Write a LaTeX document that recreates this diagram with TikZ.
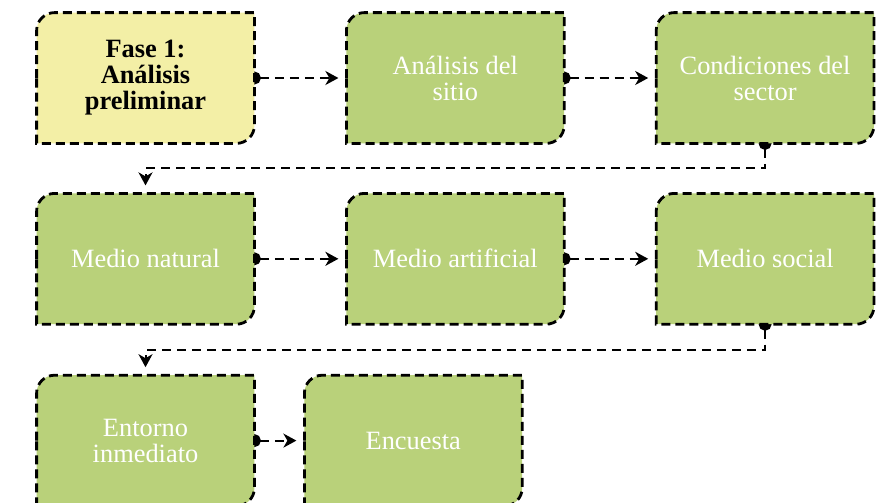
\documentclass[tikz,border=0pt]{standalone}
\usepackage{fontspec}
\setmainfont{Liberation Serif}
\usetikzlibrary{positioning,arrows.meta,calc}
\definecolor{paleyellow}{HTML}{F3EFA6}
\definecolor{leafgreen} {HTML}{B9D17A}
\pgfdeclarelayer{links}
\pgfdeclarelayer{boxes}
\pgfsetlayers{links,boxes,main}
\tikzset{
  % --- nodes
  stage/.style = {minimum width=108.5pt, minimum height=65pt, align=center,
                  inner sep=2pt, text=white, font=\fontsize{13.2}{13}\selectfont},
  phase/.style = {stage, text=black, font=\fontsize{13.2}{13}\selectfont\bfseries},
  outline/.style = {draw=black, line width=1.4pt, dash pattern=on 4.5pt off 2.5pt},
  % --- edges
  link/.style  = {draw=black, line width=1pt, dash pattern=on 4.5pt off 3pt,
                  {Circle[length=6.5pt]}-{Stealth[length=6.5pt,width=7pt,inset=2pt]},
                  shorten <=-3.25pt, shorten >=4pt},
}
\begin{document}
\begin{tikzpicture}[x=0.5pt,y=-0.5pt]
  \useasboundingbox (0,0) rectangle (884,503);
  \node[phase] (p1) at (145.5,78) {Fase 1:\\Análisis\\preliminar};
  \node[stage, right=46pt of p1] (s2) {Análisis del\\sitio};
  \node[stage, right=46pt of s2] (s3) {Condiciones del\\sector};
  \node[stage, below=25pt of p1] (n1) {Medio natural};
  \node[stage, right=46pt of n1] (n2) {Medio artificial};
  \node[stage, right=46pt of n2] (n3) {Medio social};
  \node[stage, below=25.5pt of n1] (e1) {Entorno\\inmediato};
  \node[stage, right=25pt of e1] (e2) {Encuesta};
  % box outlines: rounded top-left and bottom-right only
  \begin{pgfonlayer}{boxes}
    \foreach \n/\c in {p1/paleyellow, s2/leafgreen, s3/leafgreen, n1/leafgreen,
                       n2/leafgreen, n3/leafgreen, e1/leafgreen, e2/leafgreen}
      \draw[outline, fill=\c] (\n.west) [rounded corners=9pt] -- (\n.north west) -- (\n.north)
        [sharp corners] -- (\n.north east) -- (\n.east)
        [rounded corners=9pt] -- (\n.south east) -- (\n.south)
        [sharp corners] -- (\n.south west) -- cycle;
  \end{pgfonlayer}
  \begin{pgfonlayer}{links}
    \draw[link] (p1) -- (s2);
    \draw[link] (s2) -- (s3);
    \draw[link] (s3.south) -- ++(0,25) -| (n1.north);
    \draw[link] (n1) -- (n2);
    \draw[link] (n2) -- (n3);
    \draw[link] (n3.south) -- ++(0,26) -| (e1.north);
    \draw[link] (e1) -- (e2);
  \end{pgfonlayer}
\end{tikzpicture}
\end{document}
